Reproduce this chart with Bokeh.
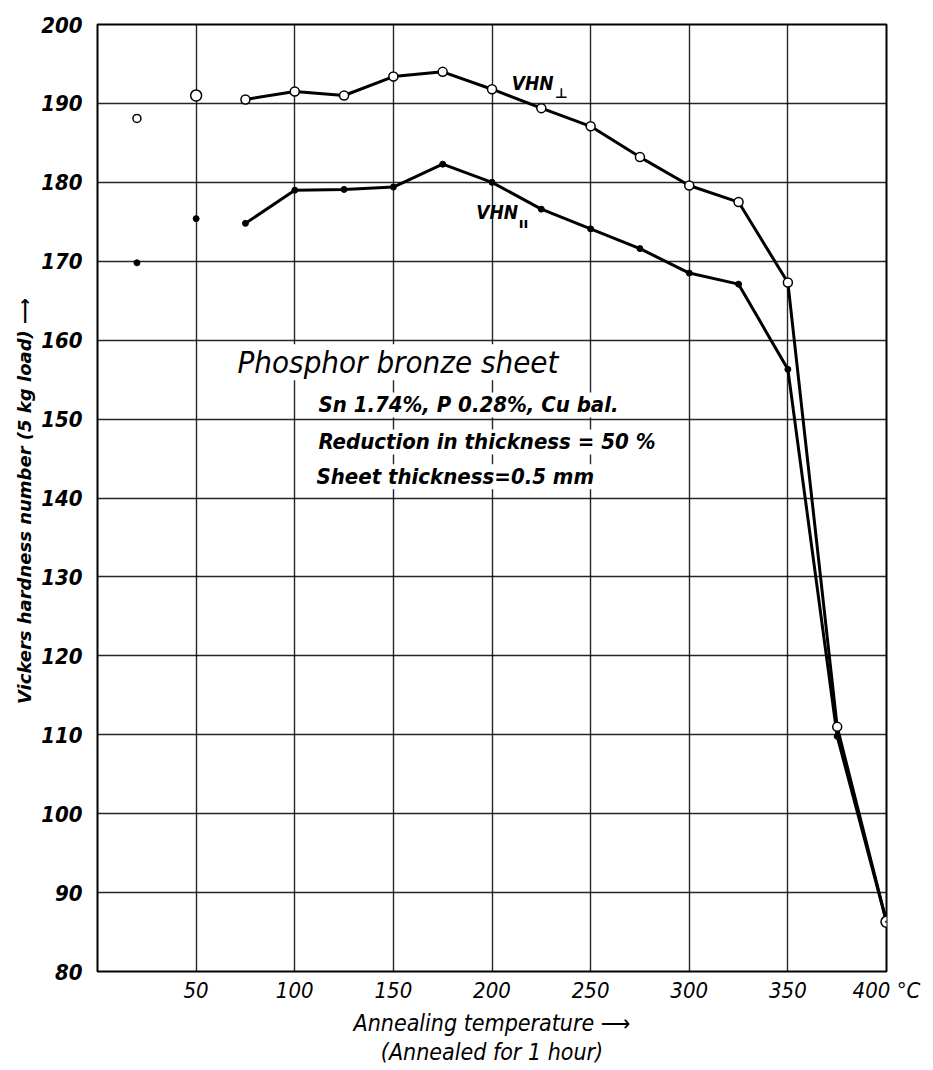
from bokeh.plotting import figure
from bokeh.models import Range1d, FixedTicker, Label, LinearAxis
from bokeh.core.properties import value
from bokeh.embed import file_html
from bokeh.resources import INLINE

# ---- data ----
temps_curve = [75, 100, 125, 150, 175, 200, 225, 250, 275, 300, 325, 350, 375, 400]
vhn_perp = [190.5, 191.5, 191.0, 193.4, 194.0, 191.8, 189.4, 187.1, 183.2, 179.6, 177.5, 167.3, 111.0, 86.3]
vhn_par = [174.8, 179.0, 179.1, 179.4, 182.3, 180.0, 176.6, 174.1, 171.6, 168.5, 167.1, 156.3, 109.8, 86.3]

temps_extra = [20, 50]
perp_extra = [188.1, 191.0]
par_extra = [169.8, 175.4]

x_ticks = [50, 100, 150, 200, 250, 300, 350, 400]
x_tick_labels = {400: "400 °C"}
y_ticks = [80, 90, 100, 110, 120, 130, 140, 150, 160, 170, 180, 190, 200]

x_title = ["Annealing temperature ⟶", "(Annealed for 1 hour)"]
y_title = "Vickers hardness number  (5 kg load) ⟶"

FONT = "DejaVu Sans"
FONT_C = "DejaVu Sans Condensed, DejaVu Sans"

p = figure(width=925, height=1070, output_backend="svg", toolbar_location=None,
           x_range=Range1d(0, 400), y_range=Range1d(80, 200),
           min_border_left=97, min_border_right=39, min_border_top=24, min_border_bottom=99)

p.background_fill_color = "white"
p.border_fill_color = "white"
p.outline_line_color = "black"
p.outline_line_width = 2

# grid
p.xaxis.ticker = FixedTicker(ticks=x_ticks)
p.yaxis.ticker = FixedTicker(ticks=y_ticks)
p.xgrid.grid_line_color = "black"
p.ygrid.grid_line_color = "black"
p.xgrid.grid_line_width = 1.4
p.ygrid.grid_line_width = 1.4
p.xgrid.grid_line_alpha = 0.85
p.ygrid.grid_line_alpha = 0.85

for ax in (p.xaxis, p.yaxis):
    ax.major_tick_line_color = None
    ax.minor_tick_line_color = None
    ax.axis_line_color = None
    ax.major_label_text_color = "black"
    ax.axis_label_text_color = "black"

p.xaxis.major_label_overrides = x_tick_labels
p.xaxis.major_label_text_font = FONT_C
p.xaxis.major_label_text_font_size = "22px"
p.xaxis.major_label_text_font_style = "italic"
p.xaxis.major_label_standoff = 0
p.xaxis.axis_label = x_title[0]
p.xaxis.axis_label_text_font = FONT_C
p.xaxis.axis_label_text_font_size = "23px"
p.xaxis.axis_label_text_font_style = "italic"
p.xaxis.axis_label_standoff = 4

# second line of the x title, as an axis without ticks
x2 = LinearAxis(ticker=FixedTicker(ticks=[]), axis_label=x_title[1],
                axis_label_text_font=FONT_C, axis_label_text_font_size="23px",
                axis_label_text_font_style="italic", axis_label_text_color="black",
                axis_label_standoff=0, major_label_standoff=0,
                major_tick_line_color=None, minor_tick_line_color=None,
                axis_line_color=None, major_label_text_font_size="0px")
p.add_layout(x2, "below")

p.yaxis.major_label_text_font = FONT_C
p.yaxis.major_label_text_font_size = "22px"
p.yaxis.major_label_text_font_style = "bold italic"
p.yaxis.major_label_standoff = 9
p.yaxis.axis_label = y_title
p.yaxis.axis_label_text_font = FONT
p.yaxis.axis_label_text_font_size = "18px"
p.yaxis.axis_label_text_font_style = "bold italic"
p.yaxis.axis_label_standoff = 3

# curves
p.line(temps_curve, vhn_perp, line_color="black", line_width=3)
p.line(temps_curve, vhn_par, line_color="black", line_width=3)

# markers on curves
p.scatter(temps_curve[:-1], vhn_perp[:-1], marker="circle", size=9,
          fill_color="white", line_color="black", line_width=1.5)
p.scatter(temps_curve[:-1], vhn_par[:-1], marker="circle", size=6,
          fill_color="black", line_color="black")
p.scatter(temps_curve[-1:], vhn_perp[-1:], marker="circle_dot", size=11,
          fill_color="white", line_color="black", line_width=1.5)

# isolated points
p.scatter(temps_extra, perp_extra, marker="circle", size=[8, 11],
          fill_color="white", line_color="black", line_width=1.5)
p.scatter(temps_extra, par_extra, marker="circle", size=6,
          fill_color="black", line_color="black")

# curve labels
p.text(x=[210], y=[192.6], text=["VHN"], text_font=value(FONT_C), text_font_size="19px",
       text_font_style="bold italic", text_baseline="middle", text_align="left")
p.text(x=[232], y=[191.3], text=["⊥"], text_font=value(FONT), text_font_size="14px",
       text_font_style="bold", text_baseline="middle", text_align="left")
p.text(x=[192], y=[176.2], text=["VHN"], text_font=value(FONT_C), text_font_size="19px",
       text_font_style="bold italic", text_baseline="middle", text_align="left")
p.text(x=[213.5], y=[174.8], text=["ıı"], text_font=value(FONT), text_font_size="14px",
       text_font_style="bold", text_baseline="middle", text_align="left")

# annotation block
ann = [
    ("Phosphor bronze sheet", 71, 157.2, "31px", "italic"),
    ("Sn 1.74%, P 0.28%, Cu bal.", 112, 151.8, "22px", "bold italic"),
    ("Reduction in thickness = 50 %", 112, 147.1, "22px", "bold italic"),
    ("Sheet thickness=0.5 mm", 111, 142.7, "22px", "bold italic"),
]
for txt, xx, yy, fs, st in ann:
    p.add_layout(Label(x=xx, y=yy, text=txt, text_font=FONT_C, text_font_size=fs,
                       text_font_style=st, text_baseline="middle", text_align="left",
                       background_fill_color="white", text_color="black"))

open("out.html", "w").write(file_html(p, INLINE))
